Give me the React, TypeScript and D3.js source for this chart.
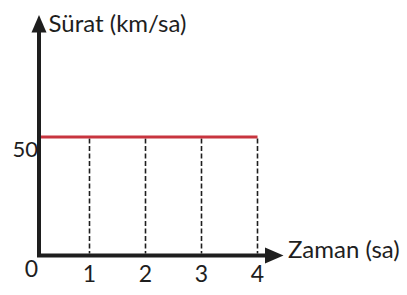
import React from "react";
import * as d3 from "d3";

const timeTicks = [1, 2, 3, 4];
const speedTicks = [50];
const speedSeries = [
  { t: 0, v: 50 },
  { t: 4, v: 50 },
];
const yTitle = "Sürat (km/sa)";
const xTitle = "Zaman (sa)";
const originLabel = "0";

const W = 407;
const H = 295;
const FONT = "Lato, 'Open Sans', sans-serif";
const INK = "#1e1e1e";
const RED = "#c8353f";

export default function App() {
  const x = d3.scaleLinear().domain([0, 4]).range([33.5, 257.5]);
  const y = d3.scaleLinear().domain([0, 50]).range([255.5, 137]);
  const axisX = 39;
  const axisY = y(0);
  const line = d3
    .line<{ t: number; v: number }>()
    .x((d) => Math.max(x(d.t), axisX + 2))
    .y((d) => y(d.v));

  return (
    <svg
      width={W}
      height={H}
      style={{ position: "absolute", left: 0, top: 0, background: "#fff" }}
      fontFamily={FONT}
    >
      {/* dashed drop lines */}
      {timeTicks.map((t) => (
        <line
          key={"d" + t}
          x1={x(t)}
          x2={x(t)}
          y1={y(50) + 1.5}
          y2={axisY - 2}
          stroke={INK}
          strokeWidth={1.6}
          strokeDasharray="5,2.5"
        />
      ))}
      {/* series */}
      <path d={line(speedSeries) || ""} stroke={RED} strokeWidth={3} fill="none" />
      {/* axes */}
      <path
        d={`M${axisX},32 V${axisY} H266`}
        stroke={INK}
        strokeWidth={4}
        fill="none"
        strokeLinejoin="miter"
      />
      <path d={`M${axisX},15 L${axisX - 7.5},32.5 L${axisX + 7.5},32.5 Z`} fill={INK} />
      <path d={`M283.5,${axisY} L265,${axisY - 8} L265,${axisY + 8} Z`} fill={INK} />
      {/* tick labels */}
      {timeTicks.map((t) => (
        <text key={"t" + t} x={x(t)} y={281.5} textAnchor="middle" fontSize={23} fill={INK}>
          {t}
        </text>
      ))}
      <text x={31.5} y={277} textAnchor="middle" fontSize={23} fill={INK}>
        {originLabel}
      </text>
      {speedTicks.map((v) => (
        <text key={"v" + v} x={38} y={y(v) + 20} textAnchor="end" fontSize={22} fill={INK}>
          {v}
        </text>
      ))}
      {/* titles */}
      <text x={48.5} y={32} fontSize={24} fill={INK}>
        {yTitle}
      </text>
      <text x={288} y={258} fontSize={24} fill={INK}>
        {xTitle}
      </text>
    </svg>
  );
}
